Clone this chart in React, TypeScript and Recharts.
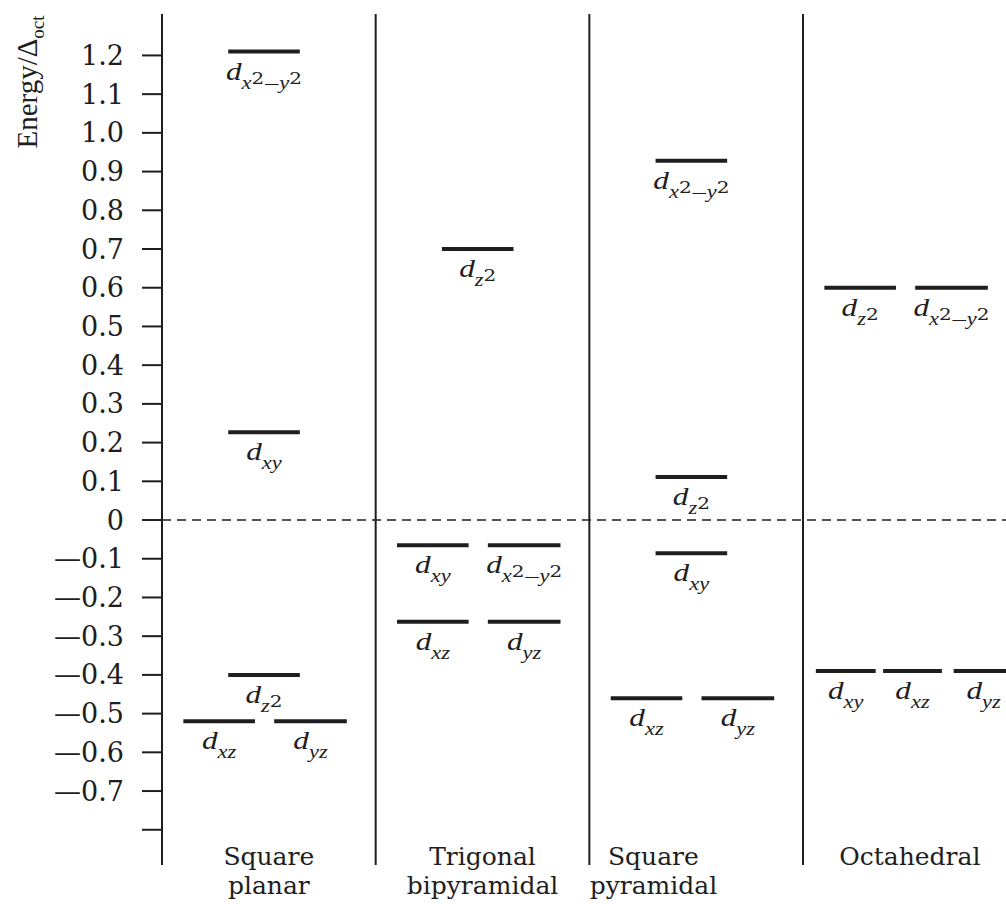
import React from 'react'
import { ComposedChart, Line, XAxis, YAxis, ReferenceLine } from 'recharts'

// crystal field splitting, energies in units of Δoct
type Level = { orbital: string; energy: number; slot: string }

const GEOMETRY_NAMES = [
  ['Square', 'planar'],
  ['Trigonal', 'bipyramidal'],
  ['Square', 'pyramidal'],
  ['Octahedral'],
]

const Y_TICKS = [1.2, 1.1, 1.0, 0.9, 0.8, 0.7, 0.6, 0.5, 0.4, 0.3, 0.2, 0.1, 0, -0.1, -0.2, -0.3, -0.4, -0.5, -0.6, -0.7, -0.8]

const SQUARE_PLANAR: Level[] = [
  { orbital: 'x2-y2', energy: 1.21, slot: 'mid' },
  { orbital: 'xy', energy: 0.227, slot: 'mid' },
  { orbital: 'z2', energy: -0.4, slot: 'mid' },
  { orbital: 'xz', energy: -0.52, slot: 'left' },
  { orbital: 'yz', energy: -0.52, slot: 'right' },
]

const TRIGONAL_BIPYRAMIDAL: Level[] = [
  { orbital: 'z2', energy: 0.7, slot: 'mid' },
  { orbital: 'xy', energy: -0.065, slot: 'left' },
  { orbital: 'x2-y2', energy: -0.065, slot: 'right' },
  { orbital: 'xz', energy: -0.263, slot: 'left' },
  { orbital: 'yz', energy: -0.263, slot: 'right' },
]

const SQUARE_PYRAMIDAL: Level[] = [
  { orbital: 'x2-y2', energy: 0.928, slot: 'mid' },
  { orbital: 'z2', energy: 0.111, slot: 'mid' },
  { orbital: 'xy', energy: -0.086, slot: 'mid' },
  { orbital: 'xz', energy: -0.46, slot: 'left' },
  { orbital: 'yz', energy: -0.46, slot: 'right' },
]

const OCTAHEDRAL: Level[] = [
  { orbital: 'z2', energy: 0.6, slot: 'left' },
  { orbital: 'x2-y2', energy: 0.6, slot: 'right' },
  { orbital: 'xy', energy: -0.39, slot: 't1' },
  { orbital: 'xz', energy: -0.39, slot: 't2' },
  { orbital: 'yz', energy: -0.39, slot: 't3' },
]

// layout: where each level sits inside its panel (panel = 1 x unit)
const SLOTS: Record<string, [number, number]> = {
  mid: [0.31, 0.645],
  left: [0.1, 0.435],
  right: [0.525, 0.865],
  t1: [0.06, 0.34],
  t2: [0.375, 0.65],
  t3: [0.705, 0.985],
}
const NAME_POSITIONS = [0.5, 1.5, 2.3, 3.5]

const INK = '#1e1e1e'
const SERIF = 'DejaVu Serif'
const ITALIC = 'Liberation Serif'

const LEVELS = [SQUARE_PLANAR, TRIGONAL_BIPYRAMIDAL, SQUARE_PYRAMIDAL, OCTAHEDRAL].flatMap((levels, i) =>
  levels.map((l) => {
    const [a, b] = SLOTS[l.slot]
    return {
      ...l,
      key: `${i}-${l.orbital}`,
      data: [
        { x: i + a, y: l.energy },
        { x: i + (a + b) / 2, y: l.energy },
        { x: i + b, y: l.energy },
      ],
    }
  })
)

function OrbitalLabel(props: any) {
  const { x, y, index, orbital } = props
  if (index !== 1) return null
  const sub = { fontSize: 18, fontFamily: ITALIC, fontStyle: 'italic' as const }
  const num = { fontSize: 16, fontFamily: SERIF, fontStyle: 'normal' as const }
  let parts: React.ReactNode
  if (orbital === 'x2-y2') {
    parts = (
      <>
        <tspan dy={9} {...sub}>x</tspan>
        <tspan dy={-5} {...num}>2</tspan>
        <tspan dy={4} {...num} fontSize={12}>—</tspan>
        <tspan dy={1} {...sub}>y</tspan>
        <tspan dy={-5} {...num}>2</tspan>
      </>
    )
  } else if (orbital === 'z2') {
    parts = (
      <>
        <tspan dy={9} {...sub}>z</tspan>
        <tspan dy={-5} {...num}>2</tspan>
      </>
    )
  } else {
    parts = <tspan dy={9} {...sub}>{orbital}</tspan>
  }
  return (
    <g transform={`translate(${x},${y + 28}) scale(1.25,1)`}>
      <text x={0} y={0} textAnchor="middle" fill={INK} fontFamily={ITALIC} fontStyle="italic" fontSize={25}>
        d{parts}
      </text>
    </g>
  )
}

function GeometryTick(props: any) {
  const { x, y, payload } = props
  const i = NAME_POSITIONS.indexOf(payload.value)
  const lines = GEOMETRY_NAMES[i] ?? []
  return (
    <g>
      {lines.map((t, k) => (
        <text key={k} x={x} y={y + k * 29} textAnchor="middle" fill={INK} fontFamily={SERIF} fontSize={25}>
          {t}
        </text>
      ))}
    </g>
  )
}

function YTitle(props: any) {
  const vb = props.viewBox ?? { x: 0, y: 14 }
  const x = vb.x + 37
  const y = vb.y + 68
  return (
    <text transform={`rotate(-90 ${x} ${y})`} x={x} y={y} textAnchor="middle" fill={INK} fontFamily={ITALIC} fontSize={29}>
      Energy/Δ<tspan dy={7} fontSize={19}>oct</tspan>
    </text>
  )
}

const fmtTick = (v: number) => {
  if (Math.abs(v + 0.8) < 1e-9) return ''
  if (v === 0) return '0'
  return v < 0 ? `—${Math.abs(v).toFixed(1)}` : v.toFixed(1)
}

export default function App() {
  return (
    <div style={{ position: 'absolute', left: 0, top: 0, width: 1006, height: 904, background: '#fff' }}>
      <ComposedChart width={1006} height={904} margin={{ top: 14, right: 0, bottom: 0, left: 0 }}>
        <XAxis
          type="number"
          dataKey="x"
          domain={[0, 3.95]}
          allowDataOverflow
          ticks={NAME_POSITIONS}
          interval={0}
          axisLine={false}
          tickLine={false}
          tickSize={0}
          tickMargin={0}
          height={39}
          tick={<GeometryTick />}
        />
        <YAxis
          type="number"
          domain={[-0.891, 1.307]}
          allowDataOverflow
          ticks={Y_TICKS}
          interval={0}
          width={162}
          tickSize={20}
          tickMargin={18}
          axisLine={{ stroke: INK, strokeWidth: 2 }}
          tickLine={{ stroke: INK, strokeWidth: 2 }}
          tick={{ fontFamily: SERIF, fontSize: 27, fill: INK }}
          tickFormatter={fmtTick}
          label={<YTitle />}
        />
        <ReferenceLine y={0} stroke={INK} strokeWidth={1.5} strokeDasharray="9 6" />
        {[1, 2, 3].map((x) => (
          <ReferenceLine key={x} x={x} stroke={INK} strokeWidth={2} />
        ))}
        {LEVELS.map((l) => (
          <Line
            key={l.key}
            data={l.data}
            dataKey="y"
            stroke={INK}
            strokeWidth={4}
            dot={false}
            activeDot={false}
            isAnimationActive={false}
            label={<OrbitalLabel orbital={l.orbital} />}
          />
        ))}
      </ComposedChart>
    </div>
  )
}
